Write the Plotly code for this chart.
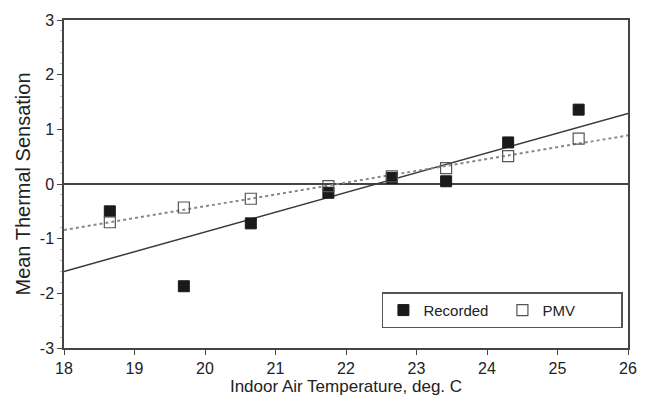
import plotly.graph_objects as go

temps = [18.65, 19.7, 20.65, 21.75, 22.65, 23.42, 24.3, 25.3]
recorded = [-0.5, -1.87, -0.72, -0.16, 0.11, 0.05, 0.76, 1.36]
pmv = [-0.7, -0.43, -0.27, -0.04, 0.14, 0.29, 0.51, 0.83]

fit_x = [18, 26]
recorded_fit = [-1.6, 1.29]
pmv_fit = [-0.84, 0.89]

x_ticks = [18, 19, 20, 21, 22, 23, 24, 25, 26]
y_ticks = [-3, -2, -1, 0, 1, 2, 3]
y_tick_labels = ["-3", "-2", "-1", "0", "1", "2", "3"]

fig = go.Figure()
fig.add_trace(go.Scatter(x=fit_x, y=recorded_fit, mode="lines",
                         line=dict(color="#3a3a3a", width=1.5), showlegend=False))
fig.add_trace(go.Scatter(x=fit_x, y=pmv_fit, mode="lines",
                         line=dict(color="#888888", width=2, dash="dot"), showlegend=False))
fig.add_trace(go.Scatter(x=temps, y=recorded, mode="markers", name="Recorded",
                         marker=dict(symbol="square", size=11, color="#1a1a1a",
                                     line=dict(color="#1a1a1a", width=1))))
fig.add_trace(go.Scatter(x=temps, y=pmv, mode="markers", name="PMV",
                         marker=dict(symbol="square-open", size=11, color="#555555",
                                     line=dict(width=1.2))))

fig.update_layout(
    width=649, height=407,
    margin=dict(l=64, r=15, t=15, b=59),
    paper_bgcolor="white", plot_bgcolor="white",
    font=dict(family="Liberation Sans, Arial, sans-serif", color="#222222", size=16),
    xaxis=dict(range=[18, 26], tickvals=x_ticks, ticks="outside", ticklen=5,
               tickcolor="#444", showline=True, linecolor="#444", linewidth=1.5,
               mirror=True, showgrid=False, zeroline=False, tickfont=dict(size=16),
               title=dict(text="Indoor Air Temperature, deg. C", font=dict(size=17), standoff=0)),
    yaxis=dict(range=[-3, 3], tickvals=y_ticks, ticktext=y_tick_labels,
               ticks="outside", ticklen=5,
               tickcolor="#444", showline=True, linecolor="#444", linewidth=1.5,
               mirror=True, showgrid=False, zeroline=True, zerolinecolor="#444",
               zerolinewidth=1.5, tickfont=dict(size=16),
               minor=dict(dtick=0.2, ticks="outside", ticklen=2, tickcolor="#bbb"),
               title=dict(text="Mean Thermal Sensation", font=dict(size=20), standoff=4)),
    legend=dict(orientation="h", x=0.991, xanchor="right", y=0.06, yanchor="bottom",
                bordercolor="#555", borderwidth=1.5, bgcolor="white",
                font=dict(size=15), itemwidth=30, entrywidth=74, tracegroupgap=0),
)

fig.write_html("out.html")
